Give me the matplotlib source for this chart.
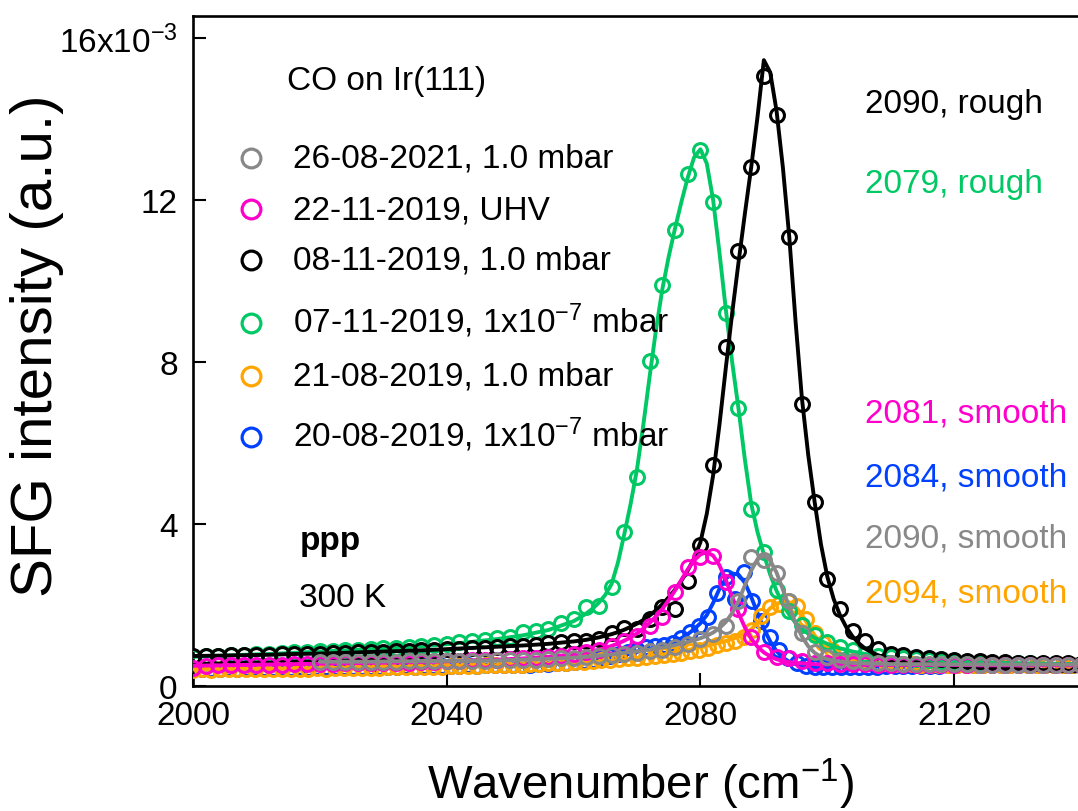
import numpy as np
import matplotlib
matplotlib.use("Agg")
import matplotlib.pyplot as plt
from matplotlib.lines import Line2D

plt.rcParams['font.family'] = ['Liberation Sans', 'DejaVu Sans']
plt.rcParams['mathtext.fontset'] = 'custom'
plt.rcParams['mathtext.rm'] = 'Liberation Sans'
plt.rcParams['mathtext.it'] = 'Liberation Sans:italic'
plt.rcParams['mathtext.bf'] = 'Liberation Sans:bold'
plt.rcParams['mathtext.default'] = 'regular'

# ---------------- data (SFG intensity in units of 1e-3) ----------------
# sampling grids (cm-1)
x_step2 = np.arange(2000, 2141, 2)          # green, black, magenta markers
x_gray = np.arange(2020, 2141, 2)           # gray markers
x_step14 = np.round(2000 + 1.4 * np.arange(101), 1)  # blue, orange markers
x_fit = np.concatenate([np.arange(2000, 2060, 4), np.arange(2060, 2111, 1),
                        np.arange(2112, 2141, 4)])

green_pts = [0.72, 0.74, 0.75, 0.76, 0.77, 0.79, 0.80, 0.81, 0.83, 0.84,
             0.86, 0.87, 0.88, 0.89, 0.91, 0.93, 0.95, 0.97, 0.99, 1.02,
             1.04, 1.08, 1.11, 1.14, 1.18, 1.22, 1.33, 1.36, 1.41, 1.56,
             1.65, 1.95, 1.98, 2.44, 3.80, 5.16, 8.02, 9.90, 11.26, 12.64,
             13.24, 11.95, 9.21, 6.86, 4.37, 3.32, 2.38, 1.85, 1.50, 1.25,
             1.08, 0.97, 0.88, 0.80, 0.75, 0.71, 0.68, 0.66, 0.64, 0.62,
             0.61, 0.60, 0.59, 0.58, 0.57, 0.56, 0.56, 0.55, 0.55, 0.54, 0.54]
green_fit = [0.72, 0.74, 0.77, 0.79, 0.82, 0.85, 0.88, 0.91, 0.94, 0.98, 1.03, 1.09, 1.16, 1.25, 1.38,
             1.60, 1.69, 1.79, 1.91, 2.06, 2.25, 2.52, 3.05, 3.75, 4.50,
             5.35, 6.45, 7.65, 8.80, 9.80, 10.60, 11.30, 11.95, 12.55, 13.05,
             13.25, 12.90, 12.00, 10.70, 9.30, 8.00, 6.85, 5.60, 4.50, 3.80,
             3.25, 2.75, 2.35, 2.02, 1.76, 1.56, 1.41, 1.29, 1.19, 1.11,
             1.04, 0.98, 0.93, 0.89, 0.85, 0.82, 0.79, 0.77, 0.75, 0.73, 0.71,
             0.68, 0.64, 0.61, 0.59, 0.57, 0.56, 0.55, 0.54]

black_pts = [0.74, 0.75, 0.75, 0.76, 0.76, 0.77, 0.77, 0.78, 0.79, 0.79,
             0.80, 0.81, 0.82, 0.83, 0.84, 0.85, 0.86, 0.87, 0.88, 0.89,
             0.91, 0.92, 0.94, 0.95, 0.97, 0.98, 0.99, 1.00, 1.05, 1.09,
             1.10, 1.12, 1.15, 1.30, 1.42, 1.40, 1.65, 1.95, 1.90, 2.60,
             3.48, 5.46, 8.37, 10.74, 12.81, 15.05, 14.10, 11.09, 6.96, 4.54,
             2.65, 1.90, 1.36, 1.11, 0.91, 0.80, 0.76, 0.72, 0.69, 0.66,
             0.64, 0.62, 0.61, 0.60, 0.59, 0.58, 0.57, 0.57, 0.56, 0.56, 0.55]
black_fit = [0.74, 0.75, 0.76, 0.77, 0.79, 0.80, 0.82, 0.84, 0.86, 0.88, 0.91, 0.94, 0.97, 1.00, 1.04,
             1.10, 1.12, 1.14, 1.17, 1.20, 1.24, 1.28, 1.33, 1.39, 1.46,
             1.54, 1.63, 1.74, 1.87, 2.02, 2.19, 2.38, 2.60, 2.85, 3.15,
             3.55, 4.25, 5.20, 6.45, 7.85, 9.20, 10.45, 11.65, 12.80, 14.05,
             15.45, 15.15, 14.20, 12.80, 11.10, 9.00, 7.10, 5.70, 4.55, 3.50,
             2.70, 2.15, 1.75, 1.45, 1.22, 1.05, 0.92, 0.83, 0.76, 0.70, 0.66,
             0.62, 0.55, 0.50, 0.46, 0.43, 0.40, 0.38, 0.36]

magenta_pts = [0.44, 0.50, 0.51, 0.51, 0.52, 0.52, 0.53, 0.53, 0.54, 0.54,
               0.55, 0.55, 0.56, 0.56, 0.57, 0.57, 0.58, 0.58, 0.59, 0.60,
               0.61, 0.62, 0.63, 0.64, 0.65, 0.66, 0.68, 0.70, 0.72, 0.75,
               0.78, 0.83, 0.88, 0.98, 1.10, 1.23, 1.48, 1.70, 2.32, 2.94,
               3.19, 3.21, 2.57, 1.90, 1.21, 0.85, 0.72, 0.68, 0.62, 0.58,
               0.56, 0.55, 0.54, 0.54, 0.53, 0.53, 0.53, 0.52, 0.52, 0.52,
               0.52, 0.52, 0.52, 0.52, 0.52, 0.52, 0.52, 0.52, 0.52, 0.52, 0.52]
magenta_fit = [0.50, 0.51, 0.52, 0.53, 0.54, 0.55, 0.56, 0.57, 0.58, 0.59, 0.61, 0.63, 0.65, 0.68, 0.72,
               0.78, 0.80, 0.83, 0.86, 0.90, 0.94, 0.99, 1.05, 1.12, 1.20,
               1.30, 1.42, 1.56, 1.72, 1.90, 2.12, 2.36, 2.62, 2.88, 3.10,
               3.25, 3.30, 3.22, 2.98, 2.62, 2.20, 1.80, 1.45, 1.17, 0.97,
               0.83, 0.73, 0.66, 0.62, 0.59, 0.57, 0.56, 0.55, 0.54, 0.53,
               0.53, 0.53, 0.52, 0.52, 0.52, 0.52, 0.52, 0.52, 0.52, 0.52, 0.52,
               0.52, 0.52, 0.52, 0.51, 0.51, 0.51, 0.51, 0.51]

gray_pts = [0.60, 0.60, 0.60, 0.60, 0.60, 0.60, 0.60, 0.61, 0.61, 0.61,
            0.61, 0.62, 0.62, 0.62, 0.63, 0.63, 0.64, 0.65, 0.66, 0.68,
            0.70, 0.72, 0.74, 0.76, 0.78, 0.82, 0.86, 0.90, 0.96, 1.04,
            1.16, 1.28, 1.48, 2.10, 3.18, 3.12, 2.78, 2.10, 1.30, 0.84,
            0.72, 0.65, 0.61, 0.59, 0.57, 0.56, 0.55, 0.55, 0.54, 0.54,
            0.54, 0.54, 0.53, 0.53, 0.53, 0.53, 0.53, 0.53, 0.53, 0.53, 0.53]
gray_fit = [0.60, 0.60, 0.60, 0.61, 0.61, 0.62, 0.62, 0.63, 0.65, 0.67,
            0.70, 0.71, 0.72, 0.73, 0.75, 0.76, 0.78, 0.80, 0.82, 0.84,
            0.86, 0.88, 0.90, 0.93, 0.95, 0.98, 1.01, 1.05, 1.09, 1.13,
            1.18, 1.24, 1.32, 1.43, 1.58, 1.80, 2.10, 2.48, 2.85, 3.13,
            3.22, 3.10, 2.80, 2.38, 1.95, 1.55, 1.22, 0.98, 0.82, 0.72,
            0.66, 0.62, 0.60, 0.58, 0.57, 0.56, 0.56, 0.55, 0.55, 0.55, 0.54,
            0.54, 0.54, 0.53, 0.53, 0.53, 0.53, 0.53, 0.53]

blue_pts = [0.42, 0.43, 0.42, 0.43, 0.44, 0.43, 0.44, 0.44, 0.45, 0.44,
            0.45, 0.45, 0.46, 0.45, 0.46, 0.46, 0.47, 0.46, 0.47, 0.47,
            0.48, 0.47, 0.48, 0.48, 0.49, 0.48, 0.49, 0.50, 0.49, 0.50,
            0.50, 0.51, 0.50, 0.51, 0.52, 0.51, 0.52, 0.53, 0.52, 0.54,
            0.55, 0.56, 0.58, 0.60, 0.62, 0.65, 0.69, 0.73, 0.78, 0.84,
            0.90, 0.96, 0.99, 1.00, 1.05, 1.18, 1.33, 1.48, 1.70, 2.30,
            2.70, 2.15, 2.82, 2.10, 1.60, 1.20, 0.90, 0.70, 0.58, 0.50,
            0.47, 0.46, 0.46, 0.47, 0.47, 0.48, 0.48, 0.48, 0.49, 0.49,
            0.49, 0.50, 0.50, 0.50, 0.50, 0.51, 0.51, 0.51, 0.51, 0.51,
            0.51, 0.52, 0.52, 0.52, 0.52, 0.52, 0.52, 0.52, 0.53, 0.53, 0.53]
blue_fit = [0.42, 0.43, 0.44, 0.45, 0.46, 0.47, 0.48, 0.49, 0.50, 0.50, 0.51, 0.52, 0.53, 0.54, 0.56,
            0.58, 0.60, 0.62, 0.64, 0.66, 0.68, 0.70, 0.73, 0.76, 0.80,
            0.84, 0.88, 0.92, 0.96, 1.00, 1.04, 1.10, 1.18, 1.28, 1.40,
            1.55, 1.75, 2.05, 2.40, 2.65, 2.78, 2.75, 2.55, 2.20, 1.80,
            1.42, 1.10, 0.86, 0.70, 0.60, 0.54, 0.50, 0.48, 0.47, 0.46,
            0.46, 0.46, 0.46, 0.47, 0.47, 0.47, 0.47, 0.48, 0.48, 0.48, 0.48,
            0.49, 0.49, 0.50, 0.50, 0.51, 0.51, 0.52, 0.52]

orange_pts = [0.40, 0.41, 0.40, 0.41, 0.41, 0.42, 0.41, 0.42, 0.42, 0.42,
              0.43, 0.42, 0.43, 0.43, 0.44, 0.43, 0.44, 0.44, 0.45, 0.44,
              0.45, 0.45, 0.46, 0.46, 0.46, 0.47, 0.47, 0.48, 0.48, 0.49,
              0.49, 0.50, 0.50, 0.51, 0.51, 0.52, 0.53, 0.53, 0.54, 0.55,
              0.56, 0.57, 0.58, 0.59, 0.60, 0.62, 0.63, 0.65, 0.66, 0.68,
              0.70, 0.72, 0.74, 0.76, 0.79, 0.82, 0.86, 0.90, 0.95, 1.00,
              1.06, 1.12, 1.20, 1.38, 1.72, 1.95, 2.02, 2.10, 1.98, 1.65,
              1.30, 1.05, 0.88, 0.76, 0.68, 0.63, 0.60, 0.58, 0.56, 0.55,
              0.54, 0.54, 0.53, 0.53, 0.53, 0.52, 0.52, 0.52, 0.52, 0.52,
              0.52, 0.52, 0.52, 0.51, 0.51, 0.51, 0.51, 0.51, 0.51, 0.51, 0.51]
orange_fit = [0.41, 0.41, 0.42, 0.43, 0.43, 0.44, 0.45, 0.46, 0.47, 0.48, 0.49, 0.50, 0.51, 0.53, 0.55,
              0.57, 0.58, 0.59, 0.59, 0.60, 0.61, 0.62, 0.64, 0.65, 0.67,
              0.69, 0.71, 0.73, 0.75, 0.77, 0.80, 0.83, 0.86, 0.89, 0.92,
              0.96, 0.99, 1.03, 1.07, 1.11, 1.16, 1.22, 1.30, 1.40, 1.55,
              1.75, 1.92, 2.03, 2.08, 2.07, 1.96, 1.76, 1.50, 1.25, 1.04,
              0.89, 0.79, 0.72, 0.67, 0.63, 0.61, 0.59, 0.57, 0.56, 0.55, 0.55,
              0.54, 0.53, 0.53, 0.52, 0.52, 0.52, 0.51, 0.51]

legend_labels = ['26-08-2021, 1.0 mbar', '22-11-2019, UHV', '08-11-2019, 1.0 mbar',
                 '07-11-2019, 1x10$^{-7}$ mbar', '21-08-2019, 1.0 mbar',
                 '20-08-2019, 1x10$^{-7}$ mbar']
peak_labels = ['2090, rough', '2079, rough', '2081, smooth', '2084, smooth',
               '2090, smooth', '2094, smooth']

C_GRAY = '#888888'
C_MAG = '#FF00CC'
C_BLACK = '#000000'
C_GREEN = '#00C864'
C_ORANGE = '#FFA500'
C_BLUE = '#0040FF'

W, H = 1078, 812
fig = plt.figure(figsize=(W / 100, H / 100), dpi=100)
ax = fig.add_axes([193 / W, 125 / H, 888 / W, 670 / H])

series = [
    (x_step14, blue_pts, x_fit, blue_fit, C_BLUE),
    (x_step14, orange_pts, x_fit, orange_fit, C_ORANGE),
    (x_step2, green_pts, x_fit, green_fit, C_GREEN),
    (x_step2, black_pts, x_fit, black_fit, C_BLACK),
    (x_step2, magenta_pts, x_fit, magenta_fit, C_MAG),
    (x_gray, gray_pts, x_fit[x_fit >= 2020], gray_fit, C_GRAY),
]
for i, (mx, my, fx, fy, c) in enumerate(series):
    ax.plot(fx, np.array(fy) * 1e-3, color=c, lw=2.8, zorder=2 + i,
            solid_capstyle='round')
    ax.plot(mx, np.array(my) * 1e-3, 'o', mfc='none', mec=c, ms=10.0, mew=2.2,
            zorder=2 + i, clip_on=True)

ax.set_xlim(2000, 2140)
ax.set_ylim(0, 16.54e-3)
ax.set_xticks([2000, 2040, 2080, 2120])
ax.set_yticks([0, 4e-3, 8e-3, 12e-3, 16e-3])
ax.set_yticklabels(['0', '4', '8', '12', '16x10$^{-3}$'])
ax.tick_params(direction='in', length=9.5, width=1.5, labelsize=24, colors='k')
ax.tick_params(axis='y', pad=11)
ax.tick_params(axis='x', pad=10)
for s in ax.spines.values():
    s.set_linewidth(1.9)

ax.set_xlabel('Wavenumber (cm$^{-1}$)', fontsize=34, va='baseline')
ax.xaxis.set_label_coords((640 - 193) / 888, (687 - 799) / 670)
ax.set_ylabel('SFG intensity (a.u.)', fontsize=42, va='center', ha='center')
ax.yaxis.set_label_coords((37 - 193) / 888, (687 - 346) / 670)


def fpos(x, y):
    return x / W, 1 - y / H


fig.text(*fpos(287, 90), 'CO on Ir(111)', fontsize=24, va='baseline')
leg_colors = [C_GRAY, C_MAG, C_BLACK, C_GREEN, C_ORANGE, C_BLUE]
leg_base = [168, 219, 270, 333, 386, 447]
for lab, c, yb in zip(legend_labels, leg_colors, leg_base):
    fx_, fy_ = fpos(251, yb - 9)
    fig.add_artist(Line2D([fx_], [fy_], marker='o', mfc='none', mec=c, ms=13.5,
                          mew=2.3, transform=fig.transFigure))
    fig.text(*fpos(293, yb), lab, fontsize=24, va='baseline')

fig.text(*fpos(300, 550), 'ppp', fontsize=24, fontweight='bold', va='baseline')
fig.text(*fpos(299, 607), '300 K', fontsize=24, va='baseline')

peak_colors = [C_BLACK, C_GREEN, C_MAG, C_BLUE, C_GRAY, C_ORANGE]
peak_base = [113, 193, 423, 487, 548, 603]
for lab, c, yb in zip(peak_labels, peak_colors, peak_base):
    fig.text(*fpos(865, yb), lab, fontsize=24, color=c, va='baseline')

fig.savefig('out.png', dpi=100)
